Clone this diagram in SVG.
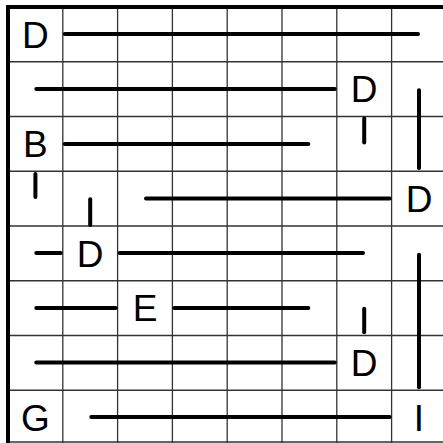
<svg xmlns="http://www.w3.org/2000/svg" width="443" height="443" viewBox="0 0 443 443">
<style>
.grid{stroke:#333;stroke-width:1.3;fill:none}
.border{stroke:#000;stroke-width:4;fill:none}
.seg{stroke:#000;stroke-width:4;stroke-linecap:round;fill:none}
.lbl{font-family:"Liberation Sans",Arial,sans-serif;font-size:37px;fill:#000;text-anchor:middle}
</style>
<rect width="443" height="443" fill="#fff"/>
<g id="grid" class="grid">
<path d="M62.8 7V443M117.6 7V443M172.4 7V443M227.2 7V443M282 7V443M336.8 7V443M391.6 7V443"/>
<path d="M8 61.75H443M8 116.5H443M8 171.25H443M8 226H443M8 280.75H443M8 335.5H443M8 390.25H443M8 442H443"/>
</g>
<path class="border" d="M8 443V7H443"/>
<g id="connectors" class="seg">
<path d="M64.8 34H418"/>
<path d="M36.3 89H334.8"/>
<path d="M64.8 144H308.3"/>
<path d="M146 198.5H389.6"/>
<path d="M36.3 253H60.8"/>
<path d="M119.6 253H363"/>
<path d="M36.3 308H115.6"/>
<path d="M174.4 308H308.3"/>
<path d="M36.3 362.5H334.8"/>
<path d="M91.3 417H389.6"/>
<path d="M364.2 118.5V142.5"/>
<path d="M419 90.3V168"/>
<path d="M35.4 174V197"/>
<path d="M90.2 199.3V225"/>
<path d="M419 254.7V387.3"/>
<path d="M364.2 308.7V332.3"/>
</g>
<g id="n-d1"><text class="lbl" x="35.4" y="47.5">D</text></g>
<g id="n-d2"><text class="lbl" x="364.2" y="102.2">D</text></g>
<g id="n-b"><text class="lbl" x="35.4" y="157">B</text></g>
<g id="n-d3"><text class="lbl" x="419" y="211.7">D</text></g>
<g id="n-d4"><text class="lbl" x="90.2" y="266.5">D</text></g>
<g id="n-e"><text class="lbl" x="145" y="321.2">E</text></g>
<g id="n-d5"><text class="lbl" x="364.2" y="376">D</text></g>
<g id="n-g"><text class="lbl" x="35.4" y="430.7">G</text></g>
<g id="n-i"><text class="lbl" x="419" y="430.7">I</text></g>
</svg>
